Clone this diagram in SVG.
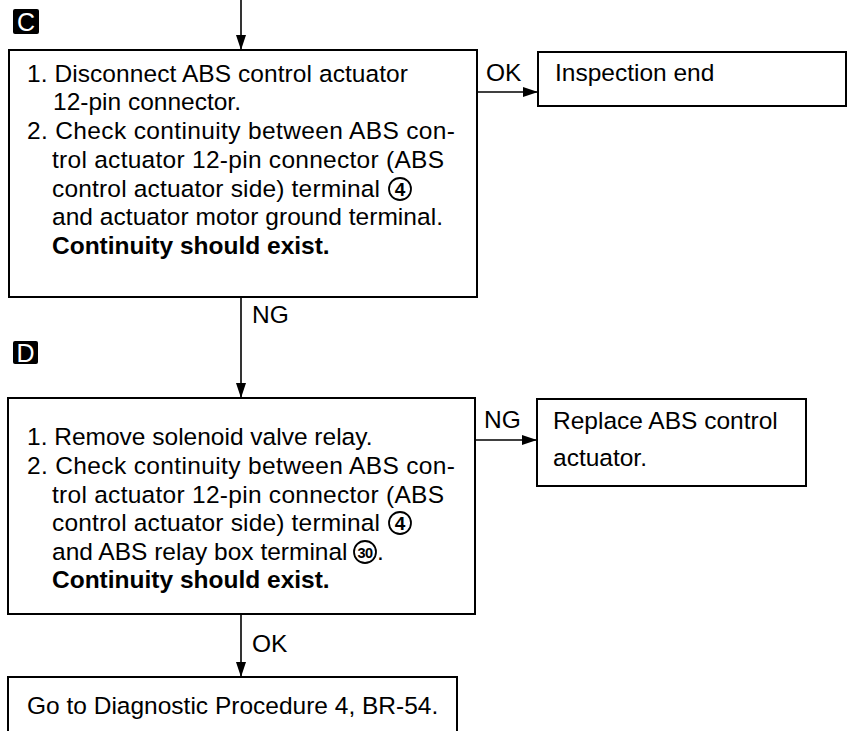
<svg xmlns="http://www.w3.org/2000/svg" width="848" height="731" viewBox="0 0 848 731">
<defs>
<marker id="ah" markerWidth="15" markerHeight="10" refX="15" refY="5" orient="auto" markerUnits="userSpaceOnUse">
<path d="M0,0 L15,5 L0,10 Z" fill="#000"/>
</marker>
<style>
.box{fill:#fff;stroke:#000;stroke-width:2}
.t{font-family:"Liberation Sans",Arial,sans-serif;font-size:24.5px;fill:#000}
.b{font-weight:bold}
.lbl{font-family:"Liberation Sans",Arial,sans-serif;font-size:24.5px;fill:#000}
.con{fill:none;stroke:#000;stroke-width:1.6;marker-end:url(#ah)}
.circ{fill:none;stroke:#000;stroke-width:1.8}
.cn{font-family:"Liberation Sans",Arial,sans-serif;font-weight:bold;fill:#000;text-anchor:middle}
.tag{fill:#000}
.tagt{font-family:"Liberation Sans",Arial,sans-serif;font-size:25px;fill:#fff;text-anchor:middle}
</style>
</defs>
<rect width="848" height="731" fill="#fff"/>

<g id="connectors">
<line class="con" x1="241" y1="0" x2="241" y2="50"/>
<line class="con" x1="477" y1="92" x2="538" y2="92"/>
<line class="con" x1="241" y1="297" x2="241" y2="398"/>
<line class="con" x1="475" y1="440" x2="537" y2="440"/>
<line class="con" x1="241" y1="614" x2="241" y2="677"/>
<text class="lbl" x="486" y="81">OK</text>
<text class="lbl" x="252" y="323">NG</text>
<text class="lbl" x="484" y="428">NG</text>
<text class="lbl" x="252" y="652">OK</text>
</g>

<g id="tagC">
<rect class="tag" x="13" y="9" width="26" height="25" rx="2"/>
<text class="tagt" x="26" y="31">C</text>
</g>

<g id="nodeC">
<rect class="box" x="9" y="50" width="468" height="247"/>
<text class="t" x="27" y="82" textLength="381">1. Disconnect ABS control actuator</text>
<text class="t" x="53" y="110">12-pin connector.</text>
<text class="t" x="27" y="139" textLength="428" lengthAdjust="spacing">2. Check continuity between ABS con-</text>
<text class="t" x="52" y="168" textLength="392" lengthAdjust="spacing">trol actuator 12-pin connector (ABS</text>
<text class="t" x="52" y="197" textLength="328" lengthAdjust="spacing">control actuator side) terminal</text>
<circle class="circ" cx="400" cy="189" r="11"/>
<text class="cn" x="400" y="196" font-size="19">4</text>
<text class="t" x="52" y="225" textLength="391" lengthAdjust="spacing">and actuator motor ground terminal.</text>
<text class="t b" x="52" y="254">Continuity should exist.</text>
</g>

<g id="nodeInspection">
<rect class="box" x="538" y="52" width="308" height="54"/>
<text class="t" x="555" y="81">Inspection end</text>
</g>

<g id="tagD">
<rect class="tag" x="13" y="341" width="25" height="23" rx="2"/>
<text class="tagt" x="25.5" y="362">D</text>
</g>

<g id="nodeD">
<rect class="box" x="8" y="398" width="467" height="216"/>
<text class="t" x="27" y="445">1. Remove solenoid valve relay.</text>
<text class="t" x="27" y="474" textLength="428" lengthAdjust="spacing">2. Check continuity between ABS con-</text>
<text class="t" x="52" y="503" textLength="392" lengthAdjust="spacing">trol actuator 12-pin connector (ABS</text>
<text class="t" x="52" y="531" textLength="328" lengthAdjust="spacing">control actuator side) terminal</text>
<circle class="circ" cx="400" cy="523" r="11"/>
<text class="cn" x="400" y="530" font-size="19">4</text>
<text class="t" x="52" y="560">and ABS relay box terminal</text>
<circle class="circ" cx="365" cy="552" r="11"/>
<text class="cn" x="365" y="558" font-size="14.5" letter-spacing="-0.5">30</text>
<text class="t" x="377" y="560">.</text>
<text class="t b" x="52" y="588">Continuity should exist.</text>
</g>

<g id="nodeReplace">
<rect class="box" x="537" y="399" width="269" height="87"/>
<text class="t" x="553" y="429">Replace ABS control</text>
<text class="t" x="553" y="466">actuator.</text>
</g>

<g id="nodeGoTo">
<rect class="box" x="8" y="677" width="449" height="60"/>
<text class="t" x="27" y="714">Go to Diagnostic Procedure 4, BR-54.</text>
</g>
</svg>
